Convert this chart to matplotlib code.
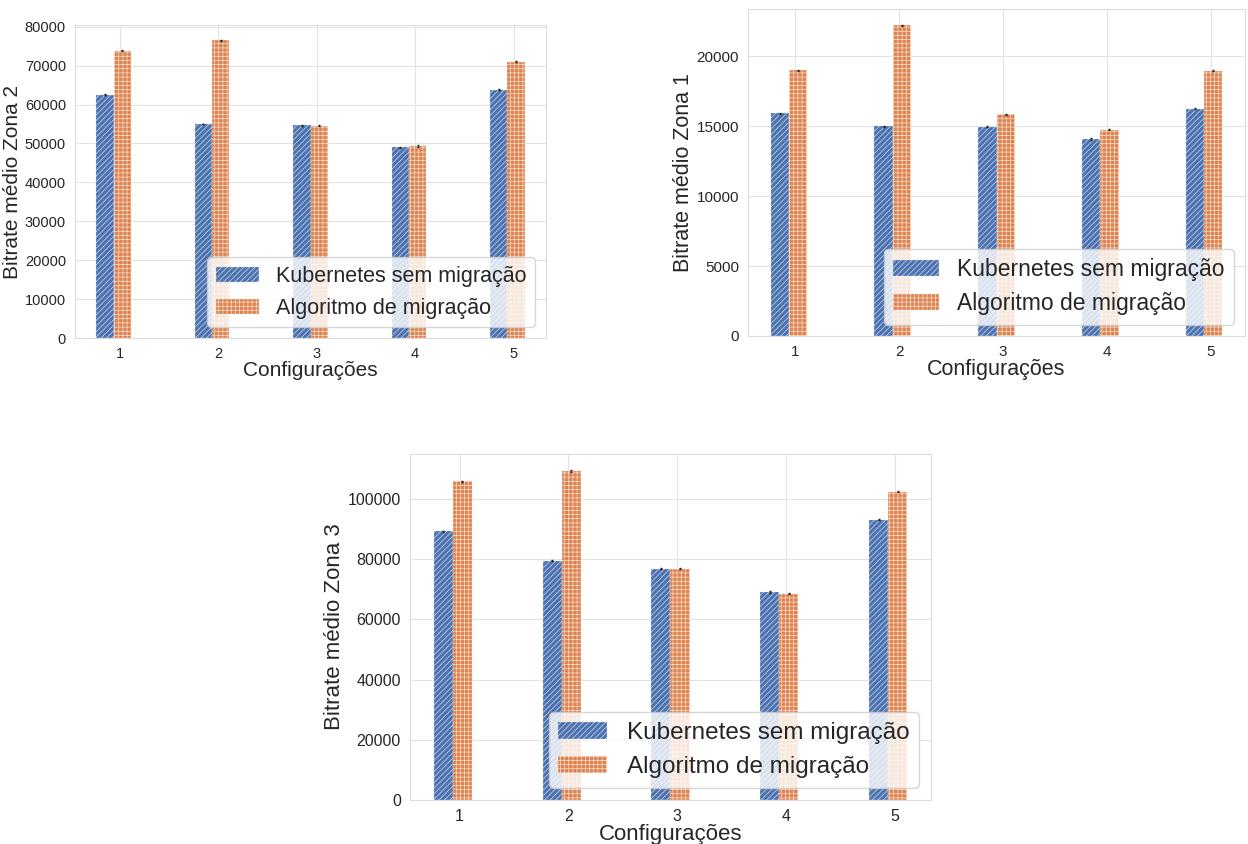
import numpy as np
import matplotlib
matplotlib.use("Agg")
import matplotlib.pyplot as plt
import seaborn as sns

sns.set_style("whitegrid", {"grid.color": "#e3e3e3", "axes.edgecolor": "#dcdcdc"})
plt.rcParams['font.family'] = ['Liberation Sans', 'DejaVu Sans']
plt.rcParams['hatch.linewidth'] = 0.45

configs = [1, 2, 3, 4, 5]
series_names = ["Kubernetes sem migração", "Algoritmo de migração"]

zona2_k8s = [62500, 55000, 54700, 49000, 63800]
zona2_alg = [73800, 76500, 54500, 49300, 71000]
zona2_err_k8s = [120, 120, 120, 120, 120]
zona2_err_alg = [120, 120, 120, 200, 120]

zona1_k8s = [15900, 15000, 14950, 14100, 16250]
zona1_alg = [19000, 22200, 15850, 14750, 18950]
zona1_err_k8s = [50, 40, 40, 60, 40]
zona1_err_alg = [40, 50, 40, 60, 40]

zona3_k8s = [89200, 79500, 76800, 69000, 93100]
zona3_alg = [105800, 109200, 76800, 68500, 102300]
zona3_err_k8s = [200, 200, 200, 250, 200]
zona3_err_alg = [200, 200, 200, 250, 200]

blue = "#4c72b0"
orange = "#dd8452"
width = 0.175

fig = plt.figure(figsize=(12.48, 8.44), dpi=100)


def draw(rect, k8s, alg, err_k8s, err_alg, ylabel, tick_fs, label_fs, legend_fs):
    ax = fig.add_axes(rect)
    x = np.array(configs, dtype=float)
    ax.bar(x - 0.15, k8s, width, yerr=err_k8s, color=blue, edgecolor="#dfe6f5",
           linewidth=0.2, hatch="//////", label=series_names[0],
           error_kw=dict(ecolor="#222222", elinewidth=0.6, capsize=1))
    ax.bar(x + 0.025, alg, width, yerr=err_alg, color=orange, edgecolor="#fbe6d6",
           linewidth=0.2, hatch="++++", label=series_names[1],
           error_kw=dict(ecolor="#222222", elinewidth=0.6, capsize=1))
    ax.set_xticks(configs)
    ax.tick_params(labelsize=tick_fs, pad=3)
    ax.set_xlabel("Configurações", fontsize=label_fs, labelpad=0)
    ax.set_ylabel(ylabel, fontsize=label_fs, labelpad=2)
    ax.legend(loc="lower right", fontsize=legend_fs, frameon=True)
    return ax


draw([0.0601, 0.5995, 0.3774, 0.3709], zona2_k8s, zona2_alg, zona2_err_k8s,
     zona2_err_alg, "Bitrate médio Zona 2", 10.5, 15, 15.5)
draw([0.5994, 0.6019, 0.3982, 0.3874], zona1_k8s, zona1_alg, zona1_err_k8s,
     zona1_err_alg, "Bitrate médio Zona 1", 11, 15.5, 16.5)
draw([0.3285, 0.0521, 0.4175, 0.4100], zona3_k8s, zona3_alg, zona3_err_k8s,
     zona3_err_alg, "Bitrate médio Zona 3", 11.5, 16, 17.5)

fig.savefig("out.png", dpi=100)
